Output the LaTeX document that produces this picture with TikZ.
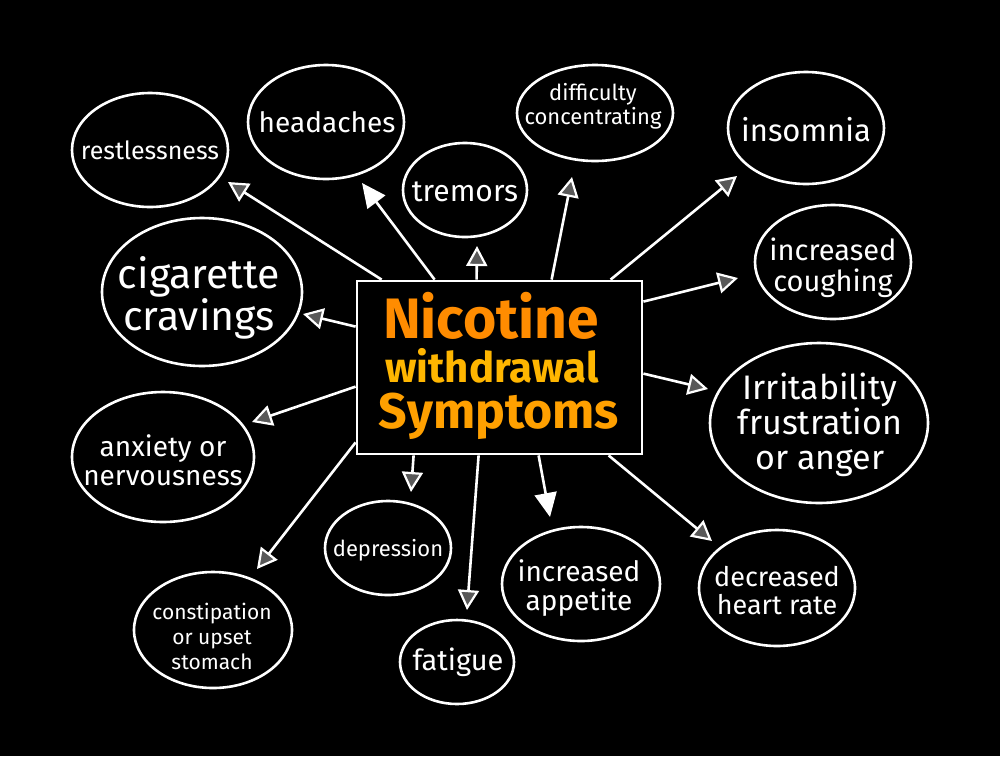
\documentclass[tikz,border=0pt]{standalone}
\usepackage{fontspec}
\setmainfont{Fira Sans}
\usetikzlibrary{arrows.meta,calc}
\definecolor{bgcolor}{RGB}{0,0,0}
\definecolor{chalk}{RGB}{255,255,255}
\definecolor{nicorange}{RGB}{255,140,0}
\definecolor{nicamber}{RGB}{255,160,0}
\definecolor{nicgold}{RGB}{255,182,0}

\begin{document}
\begin{tikzpicture}[
    x=1pt, y=-1pt,
    ring/.style={draw=chalk, line width=2.6pt},
    word/.style={text=chalk, align=center, inner sep=0pt},
    arr/.style={chalk, line width=2.6pt, -{Triangle[length=20pt, width=21pt, line width=2.2pt, fill=chalk!35!bgcolor]}},
    arrfill/.style={chalk, line width=2.6pt, -{Triangle[length=24pt, width=22pt]}}
]

% Background Card
\fill[bgcolor] (0,0) rectangle (1000,756);

% Central Box
\node[draw=chalk, line width=2.8pt, minimum width=285pt, minimum height=173pt, inner sep=0pt] (BOX) at (499.5,367.5) {};

% Title (one node per line)
\node[anchor=base, inner sep=0pt, text=nicorange, font=\bfseries\fontsize{57}{57}\selectfont] (TITLE_A) at (491,338) {Nicotine};
\node[anchor=base, inner sep=0pt, text=nicgold, font=\bfseries\fontsize{42}{42}\selectfont] (TITLE_B) at (492,382) {withdrawal};
\node[anchor=base, inner sep=0pt, text=nicamber, font=\bfseries\fontsize{50}{50}\selectfont] (TITLE_C) at (499,428) {Symptoms};

% Symptom Labels (top row)
\node[word, font=\fontsize{25}{28}\selectfont] (REST) at (150,150) {restlessness};
\node[word, font=\fontsize{28}{30}\selectfont] (HEAD) at (327,122) {headaches};
\node[word, font=\fontsize{30}{30}\selectfont] (TREM) at (465,192) {tremors};
\node[word, font=\fontsize{22}{24}\selectfont] (DIFF) at (593,106) {difficulty\\concentrating};
\node[word, font=\fontsize{31}{30}\selectfont] (INSOM) at (806,130) {insomnia};

% Symptom Labels (sides)
\node[word, font=\fontsize{41}{38}\selectfont] (CIG) at (199,298) {cigarette\\cravings};
\node[word, font=\fontsize{28}{29}\selectfont] (ANX) at (163,460) {anxiety or\\nervousness};
\node[word, font=\fontsize{29}{31}\selectfont] (COUGH) at (833,268) {increased\\coughing};
\node[word, font=\fontsize{34}{35}\selectfont] (IRRIT) at (820,425) {Irritability\\frustration\\or anger};

% Symptom Labels (bottom row)
\node[word, font=\fontsize{21}{25}\selectfont] (CONST) at (212,636) {constipation\\or upset\\stomach};
\node[word, font=\fontsize{22}{24}\selectfont] (DEPR) at (388,550) {depression};
\node[word, font=\fontsize{29}{30}\selectfont] (FATIG) at (458,662) {fatigue};
\node[word, font=\fontsize{28}{29}\selectfont] (APPET) at (579,588) {increased\\appetite};
\node[word, font=\fontsize{27}{28}\selectfont] (HEART) at (777,591) {decreased\\heart rate};

% Hand Drawn Rings
\draw[ring] (150,150) ellipse (78pt and 57pt);
\draw[ring] (326,122) ellipse (78pt and 57pt);
\draw[ring] (465,190) ellipse (62pt and 47pt);
\draw[ring] (595,113) ellipse (78pt and 48pt);
\draw[ring] (806,128) ellipse (78pt and 56pt);
\draw[ring] (202,292) ellipse (100pt and 74pt);
\draw[ring] (163,457) ellipse (91pt and 65pt);
\draw[ring] (833,262) ellipse (78pt and 57pt);
\draw[ring] (819,423) ellipse (109pt and 80pt);
\draw[ring] (213,630) ellipse (79pt and 58pt);
\draw[ring] (388,548) ellipse (63pt and 47pt);
\draw[ring] (457,662) ellipse (57pt and 42pt);
\draw[ring] (581,584) ellipse (79pt and 57pt);
\draw[ring] (777,588) ellipse (78pt and 58pt);

% Arrow Tips
\coordinate (T_REST) at (228,182);
\coordinate (T_HEAD) at (362,183);
\coordinate (T_TREM) at (477,246);
\coordinate (T_DIFF) at (572,177);
\coordinate (T_INSOM) at (737,176);
\coordinate (T_COUGH) at (738,278);
\coordinate (T_IRRIT) at (708,389);
\coordinate (T_HEART) at (712,541);
\coordinate (T_APPET) at (550,517);
\coordinate (T_FATIG) at (467,610);
\coordinate (T_DEPR) at (411,492);
\coordinate (T_CONST) at (257,569);
\coordinate (T_ANX) at (252,422);
\coordinate (T_CIG) at (303,314);

% Arrows out of the top edge
\draw[arr] ($(BOX.north west)+(26,0)$) -- (T_REST);
\draw[arrfill] ($(BOX.north west)+(79,0)$) -- (T_HEAD);
\draw[arr] ($(BOX.north west)+(121,0)$) -- (T_TREM);
\draw[arr] ($(BOX.north west)+(196,0)$) -- (T_DIFF);
\draw[arr] ($(BOX.north west)+(255,0)$) -- (T_INSOM);

% Arrows out of the side edges
\draw[arr] ($(BOX.north east)+(0,22)$) -- (T_COUGH);
\draw[arr] ($(BOX.north east)+(0,94)$) -- (T_IRRIT);
\draw[arr] ($(BOX.north west)+(0,47)$) -- (T_CIG);
\draw[arr] ($(BOX.north west)+(0,107)$) -- (T_ANX);
\draw[arr] ($(BOX.south west)+(0,-13)$) -- (T_CONST);

% Arrows out of the bottom edge
\draw[arr] ($(BOX.south west)+(58,0)$) -- (T_DEPR);
\draw[arr] ($(BOX.south west)+(123,0)$) -- (T_FATIG);
\draw[arrfill] ($(BOX.south west)+(183,0)$) -- (T_APPET);
\draw[arr] ($(BOX.south west)+(253,0)$) -- (T_HEART);

\end{tikzpicture}
\end{document}
